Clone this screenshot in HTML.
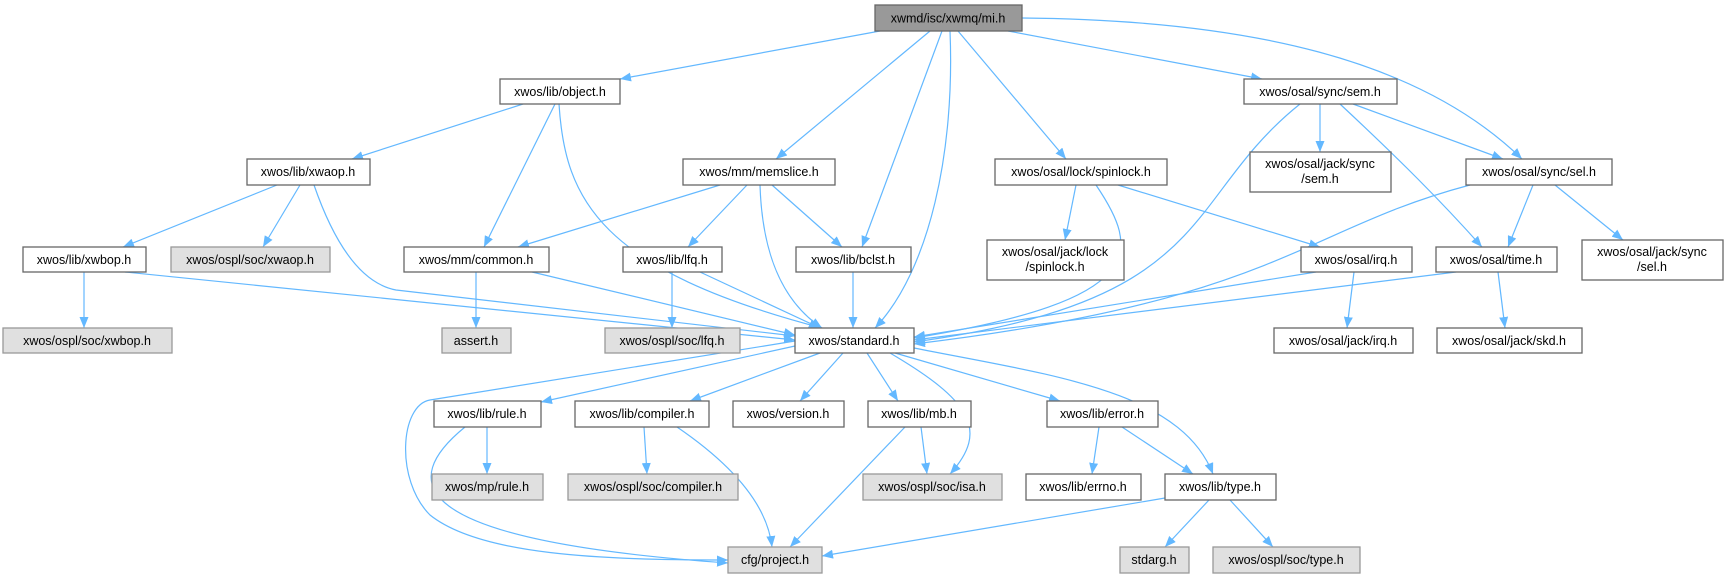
<!DOCTYPE html>
<html><head><meta charset="utf-8"><style>
html,body{margin:0;padding:0;background:#fff;}
svg{display:block;}
text{font-family:"Liberation Sans",Arial,sans-serif;font-size:12.5px;fill:#000;text-anchor:middle;}
.n{fill:#fff;stroke:#666;stroke-width:1.3;}
.g{fill:#e0e0e0;stroke:#999;stroke-width:1.3;}
.r{fill:#999;stroke:#666;stroke-width:1.3;}
path.e{fill:none;stroke:#63b8ff;stroke-width:1.2;marker-end:url(#a);}
</style></head><body>
<svg width="1729" height="579" viewBox="0 0 1729 579" xmlns="http://www.w3.org/2000/svg">
<defs><marker id="a" markerUnits="userSpaceOnUse" markerWidth="12" markerHeight="9" refX="11" refY="4.5" orient="auto"><path d="M0,0 L11,4.5 L0,9 z" fill="#63b8ff"/></marker></defs>
<g>
<path class="e" d="M880 31 L620 79"/>
<path class="e" d="M930 31 L776 159"/>
<path class="e" d="M942 31 L862 247"/>
<path class="e" d="M950 31 C955 150,930 270,875 328"/>
<path class="e" d="M958 31 L1066 159"/>
<path class="e" d="M1008 31 L1262 79"/>
<path class="e" d="M1022 18 C1250 20,1420 60,1522 159"/>
<path class="e" d="M523 104 L352 159"/>
<path class="e" d="M555 104 L484 247"/>
<path class="e" d="M559 104 C565 200,600 270,822 328"/>
<path class="e" d="M277 185 L123 247"/>
<path class="e" d="M300 185 L263 247"/>
<path class="e" d="M314 185 C340 260,370 285,396 290 L795 336"/>
<path class="e" d="M720 185 L518 247"/>
<path class="e" d="M747 185 L688 247"/>
<path class="e" d="M760 185 C762 250,780 300,822 328"/>
<path class="e" d="M772 185 L842 247"/>
<path class="e" d="M84 272 L84 328"/>
<path class="e" d="M125 272 L795 340"/>
<path class="e" d="M476 272 L476 328"/>
<path class="e" d="M532 272 L795 335"/>
<path class="e" d="M672 272 L672 328"/>
<path class="e" d="M700 272 L820 328"/>
<path class="e" d="M853 272 L853 328"/>
<path class="e" d="M1076 185 L1065 240"/>
<path class="e" d="M1096 185 C1140 250,1150 300,914 338"/>
<path class="e" d="M1118 185 L1320 247"/>
<path class="e" d="M1300 104 C1180 200,1220 300,914 342"/>
<path class="e" d="M1320 104 L1320 152"/>
<path class="e" d="M1353 104 L1503 159"/>
<path class="e" d="M1340 104 C1400 160,1440 200,1482 247"/>
<path class="e" d="M1470 185 C1300 230,1280 300,914 344"/>
<path class="e" d="M1533 185 L1508 247"/>
<path class="e" d="M1555 185 L1623 240"/>
<path class="e" d="M1316 272 L914 337"/>
<path class="e" d="M1354 272 L1347 328"/>
<path class="e" d="M1456 272 L914 340"/>
<path class="e" d="M1498 272 L1505 328"/>
<path class="e" d="M795 341 L430 400 C400 405,395 480,430 515 C480 555,600 560,728 560"/>
<path class="e" d="M795 346 L541 402"/>
<path class="e" d="M820 353 L690 401"/>
<path class="e" d="M843 353 L800 401"/>
<path class="e" d="M867 353 L898 401"/>
<path class="e" d="M890 353 C970 400,990 430,950 474"/>
<path class="e" d="M895 353 L1060 401"/>
<path class="e" d="M914 348 C1050 375,1180 390,1213 474"/>
<path class="e" d="M487 427 L487 474"/>
<path class="e" d="M465 427 C400 480,400 540,728 563"/>
<path class="e" d="M644 427 L647 474"/>
<path class="e" d="M677 427 C740 470,768 510,772 547"/>
<path class="e" d="M921 427 L927 474"/>
<path class="e" d="M905 427 L790 547"/>
<path class="e" d="M1099 427 L1092 474"/>
<path class="e" d="M1122 427 L1193 474"/>
<path class="e" d="M1165 498 L822 556"/>
<path class="e" d="M1209 500 L1165 547"/>
<path class="e" d="M1230 500 L1273 547"/>
</g>
<g>
<rect class="r" x="875" y="5" width="147" height="26"/><text x="948" y="22.5">xwmd/isc/xwmq/mi.h</text>
<rect class="n" x="500" y="79" width="120" height="25"/><text x="560" y="96">xwos/lib/object.h</text>
<rect class="n" x="1244" y="79" width="153" height="25"/><text x="1320" y="96">xwos/osal/sync/sem.h</text>
<rect class="n" x="247" y="159" width="123" height="26"/><text x="308" y="176">xwos/lib/xwaop.h</text>
<rect class="n" x="683" y="159" width="152" height="26"/><text x="759" y="176">xwos/mm/memslice.h</text>
<rect class="n" x="995" y="159" width="172" height="26"/><text x="1081" y="176">xwos/osal/lock/spinlock.h</text>
<rect class="n" x="1250" y="152" width="141" height="40"/><text x="1320" y="168">xwos/osal/jack/sync</text><text x="1320" y="183">/sem.h</text>
<rect class="n" x="1466" y="159" width="146" height="26"/><text x="1539" y="176">xwos/osal/sync/sel.h</text>
<rect class="n" x="23" y="247" width="123" height="25"/><text x="84" y="264">xwos/lib/xwbop.h</text>
<rect class="g" x="171" y="247" width="159" height="25"/><text x="250" y="264">xwos/ospl/soc/xwaop.h</text>
<rect class="n" x="404" y="247" width="145" height="25"/><text x="476" y="264">xwos/mm/common.h</text>
<rect class="n" x="623" y="247" width="99" height="25"/><text x="672" y="264">xwos/lib/lfq.h</text>
<rect class="n" x="796" y="247" width="115" height="25"/><text x="853" y="264">xwos/lib/bclst.h</text>
<rect class="n" x="987" y="240" width="137" height="40"/><text x="1055" y="256">xwos/osal/jack/lock</text><text x="1055" y="271">/spinlock.h</text>
<rect class="n" x="1301" y="247" width="111" height="25"/><text x="1356" y="264">xwos/osal/irq.h</text>
<rect class="n" x="1436" y="247" width="121" height="25"/><text x="1496" y="264">xwos/osal/time.h</text>
<rect class="n" x="1582" y="240" width="141" height="40"/><text x="1652" y="256">xwos/osal/jack/sync</text><text x="1652" y="271">/sel.h</text>
<rect class="g" x="3" y="328" width="169" height="25"/><text x="87" y="345">xwos/ospl/soc/xwbop.h</text>
<rect class="g" x="442" y="328" width="69" height="25"/><text x="476" y="345">assert.h</text>
<rect class="g" x="605" y="328" width="135" height="25"/><text x="672" y="345">xwos/ospl/soc/lfq.h</text>
<rect class="n" x="795" y="328" width="119" height="25"/><text x="854" y="345">xwos/standard.h</text>
<rect class="n" x="1274" y="328" width="139" height="25"/><text x="1343" y="345">xwos/osal/jack/irq.h</text>
<rect class="n" x="1437" y="328" width="145" height="25"/><text x="1509" y="345">xwos/osal/jack/skd.h</text>
<rect class="n" x="434" y="401" width="107" height="26"/><text x="487" y="418">xwos/lib/rule.h</text>
<rect class="n" x="575" y="401" width="134" height="26"/><text x="642" y="418">xwos/lib/compiler.h</text>
<rect class="n" x="733" y="401" width="111" height="26"/><text x="788" y="418">xwos/version.h</text>
<rect class="n" x="868" y="401" width="103" height="26"/><text x="919" y="418">xwos/lib/mb.h</text>
<rect class="n" x="1047" y="401" width="111" height="26"/><text x="1102" y="418">xwos/lib/error.h</text>
<rect class="g" x="432" y="474" width="111" height="26"/><text x="487" y="491">xwos/mp/rule.h</text>
<rect class="g" x="568" y="474" width="170" height="26"/><text x="653" y="491">xwos/ospl/soc/compiler.h</text>
<rect class="g" x="863" y="474" width="139" height="26"/><text x="932" y="491">xwos/ospl/soc/isa.h</text>
<rect class="n" x="1026" y="474" width="115" height="26"/><text x="1083" y="491">xwos/lib/errno.h</text>
<rect class="n" x="1165" y="474" width="111" height="26"/><text x="1220" y="491">xwos/lib/type.h</text>
<rect class="g" x="728" y="547" width="94" height="26"/><text x="775" y="564">cfg/project.h</text>
<rect class="g" x="1120" y="547" width="69" height="26"/><text x="1154" y="564">stdarg.h</text>
<rect class="g" x="1213" y="547" width="147" height="26"/><text x="1286" y="564">xwos/ospl/soc/type.h</text>
</g>
</svg>
</body></html>
